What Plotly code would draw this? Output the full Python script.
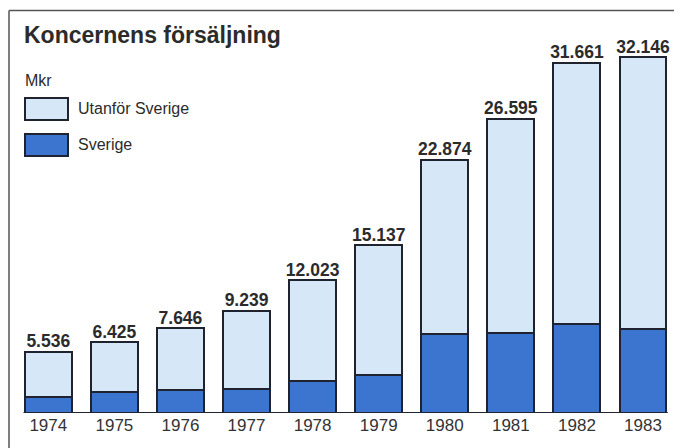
import plotly.graph_objects as go

years = [1974, 1975, 1976, 1977, 1978, 1979, 1980, 1981, 1982, 1983]
totals = [5536, 6425, 7646, 9239, 12023, 15137, 22874, 26595, 31661, 32146]
sverige = [1450, 1900, 2100, 2150, 2850, 3450, 7100, 7200, 8000, 7600]
utanfor = [t - s for t, s in zip(totals, sverige)]
total_labels = ["5.536", "6.425", "7.646", "9.239", "12.023", "15.137",
                "22.874", "26.595", "31.661", "32.146"]
tick_labels = [str(y) for y in years]

FONT = "Liberation Sans, Arial, sans-serif"
LIGHT = "#d6e7f8"
DARK = "#3b75d0"
EDGE = "#1f2330"
TEXT = "#2b2b2b"
BW = 0.71

W, H = 682, 448
OFF = 8            # page body margin
BASE = 412.7       # page y of the bar baseline
plot_h = BASE - OFF
MB = H - plot_h


def px_to_paper(xp, yp):
    return (xp - OFF) / W, 1 - (yp - OFF) / plot_h


fig = go.Figure()
fig.add_bar(x=years, y=sverige, name="Sverige", width=BW,
            marker=dict(color=DARK, line=dict(color=EDGE, width=2)))
fig.add_bar(x=years, y=utanfor, name="Utanför Sverige", width=BW,
            marker=dict(color=LIGHT, line=dict(color=EDGE, width=2)))
fig.add_scatter(x=years, y=totals, mode="text", text=total_labels,
                textposition="top center",
                textfont=dict(family=FONT, size=17.5, color=TEXT, weight="bold"),
                showlegend=False, hoverinfo="skip")

shapes = []
shapes.append(dict(type="line", xref="x", yref="y", x0=years[0] - BW / 2 - 0.02,
                   x1=years[-1] + BW / 2 + 0.02, y0=0, y1=0,
                   line=dict(color=EDGE, width=2)))
fx, fy = px_to_paper(9, 10.5)
shapes.append(dict(type="line", xref="paper", yref="paper", x0=fx, x1=fx,
                   y0=fy, y1=-0.3, line=dict(color="#555", width=1.5)))
shapes.append(dict(type="line", xref="paper", yref="paper", x0=fx, x1=1.05,
                   y0=fy, y1=fy, line=dict(color="#555", width=1.5)))

for (y0p, y1p, col) in [(98, 120, LIGHT), (134, 156, DARK)]:
    x0, yy0 = px_to_paper(25, y0p)
    x1, yy1 = px_to_paper(68, y1p)
    shapes.append(dict(type="rect", xref="paper", yref="paper", x0=x0, x1=x1,
                       y0=yy1, y1=yy0, fillcolor=col,
                       line=dict(color=EDGE, width=2)))

annotations = []
tx, ty = px_to_paper(22, 35)
annotations.append(dict(text="Koncernens försäljning", xref="paper", yref="paper",
                        x=tx, y=ty, xanchor="left", yanchor="middle", showarrow=False,
                        font=dict(family=FONT, size=23, color=TEXT, weight="bold")))
mx, my = px_to_paper(23, 80)
annotations.append(dict(text="Mkr", xref="paper", yref="paper", x=mx, y=my,
                        xanchor="left", yanchor="middle", showarrow=False,
                        font=dict(family=FONT, size=16, color=TEXT)))
for label, yp in [("Utanför Sverige", 108), ("Sverige", 144)]:
    lx, ly = px_to_paper(76, yp)
    annotations.append(dict(text=label, xref="paper", yref="paper", x=lx, y=ly,
                            xanchor="left", yanchor="middle", showarrow=False,
                            font=dict(family=FONT, size=16, color=TEXT)))

px_per_year = (643 - 48.3) / 9
x_lo = years[0] - (48.3 - OFF) / px_per_year
x_hi = x_lo + W / px_per_year
y_hi = plot_h / 11.06 * 1000

fig.update_layout(
    width=W, height=H,
    margin=dict(l=0, r=0, t=0, b=MB),
    barmode="stack",
    showlegend=False,
    paper_bgcolor="white", plot_bgcolor="white",
    xaxis=dict(range=[x_lo, x_hi], tickvals=years, ticktext=tick_labels,
               showgrid=False, zeroline=False, showline=False, ticks="",
               tickfont=dict(family=FONT, size=17, color="#333")),
    yaxis=dict(range=[0, y_hi], visible=False, showgrid=False, zeroline=False),
    shapes=shapes,
    annotations=annotations,
)

fig.write_html("out.html")
